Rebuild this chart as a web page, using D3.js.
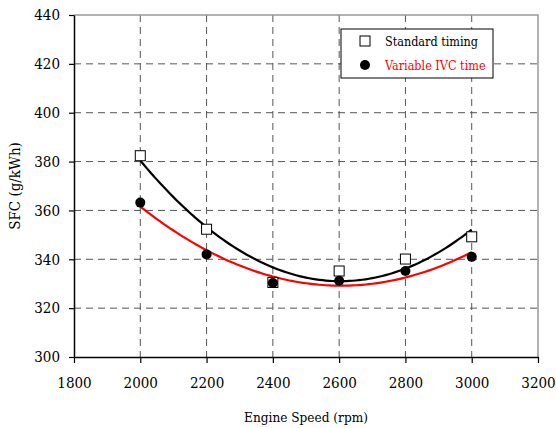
<!DOCTYPE html>
<html><head><meta charset="utf-8">
<script src="https://cdn.jsdelivr.net/npm/d3@7"></script>
<style>
html,body{margin:0;padding:0;background:#fff;}
svg{display:block;}
</style></head>
<body><svg id="chart" width="556" height="428"></svg>
<script>
const speeds = [2000, 2200, 2400, 2600, 2800, 3000];
const standardSFC = [382.4, 352.3, 330.5, 335.2, 340.1, 349.2];
const variableSFC = [363.2, 342.0, 330.3, 331.2, 335.2, 341.0];
const xTicks = [1800, 2000, 2200, 2400, 2600, 2800, 3000, 3200];
const yTicks = [300, 320, 340, 360, 380, 400, 420, 440];
const seriesNames = ["Standard timing", "Variable IVC time"];
const FONT = "'DejaVu Serif Condensed', 'DejaVu Serif', serif";

const svg = d3.select("#chart");
const L = 74, R = 538, T = 15, B = 357;
const x = d3.scaleLinear().domain([1800, 3200]).range([L, R]);
const y = d3.scaleLinear().domain([300, 440]).range([B, T]);

const grid = svg.append("g");
grid.selectAll(".vg").data(xTicks.slice(1, -1)).join("line")
  .attr("x1", d => x(d)).attr("x2", d => x(d)).attr("y1", T).attr("y2", B)
  .attr("stroke", "#555").attr("stroke-width", 1).attr("stroke-dasharray", "7,5");
grid.selectAll(".hg").data(yTicks.slice(1, -1)).join("line")
  .attr("x1", L).attr("x2", R).attr("y1", d => y(d)).attr("y2", d => y(d))
  .attr("stroke", "#555").attr("stroke-width", 1).attr("stroke-dasharray", "7,5");
svg.append("path").attr("d", `M${L},${T}H${R}V${B}`).attr("fill", "none")
  .attr("stroke", "#999").attr("stroke-width", 1.5);

const xAxis = svg.append("g").attr("transform", `translate(0,${B})`)
  .call(d3.axisBottom(x).tickValues(xTicks).tickSize(6).tickSizeOuter(0).tickPadding(14).tickFormat(d3.format("d")));
const yAxis = svg.append("g").attr("transform", `translate(${L},0)`)
  .call(d3.axisLeft(y).tickValues(yTicks).tickSize(5).tickSizeOuter(0).tickPadding(9).tickFormat(d3.format("d")));
[xAxis, yAxis].forEach(a => {
  a.attr("font-family", null);
  a.select(".domain").attr("stroke", "#000").attr("stroke-width", 1.5);
  a.selectAll(".tick line").attr("stroke", "#000").attr("stroke-width", 1.2);
  a.selectAll(".tick text").style("font-family", FONT).attr("font-size", 15).attr("fill", "#000");
});

// quadratic least-squares trend line (Excel-style polynomial trendline)
function quadFit(xs, ys) {
  const t = xs.map(v => (v - 2500) / 100);
  let S = [0,0,0,0,0], Ty = [0,0,0];
  t.forEach((ti, i) => {
    for (let k = 0; k < 5; k++) S[k] += Math.pow(ti, k);
    for (let k = 0; k < 3; k++) Ty[k] += Math.pow(ti, k) * ys[i];
  });
  const A = [[S[0],S[1],S[2],Ty[0]],[S[1],S[2],S[3],Ty[1]],[S[2],S[3],S[4],Ty[2]]];
  for (let i = 0; i < 3; i++) for (let j = i + 1; j < 3; j++) {
    const f = A[j][i] / A[i][i];
    for (let k = i; k < 4; k++) A[j][k] -= f * A[i][k];
  }
  const c = [0,0,0];
  for (let i = 2; i >= 0; i--) {
    let s = A[i][3];
    for (let k = i + 1; k < 3; k++) s -= A[i][k] * c[k];
    c[i] = s / A[i][i];
  }
  return v => { const tt = (v - 2500) / 100; return c[0] + c[1] * tt + c[2] * tt * tt; };
}
const xs = d3.range(2000, 3000.1, 10);
const line = d3.line().x(d => x(d[0])).y(d => y(d[1]));
[[standardSFC, "#000"], [variableSFC, "#f00"]].forEach(([vals, col]) => {
  const f = quadFit(speeds, vals);
  svg.append("path").datum(xs.map(v => [v, f(v)])).attr("d", line)
    .attr("fill", "none").attr("stroke", col).attr("stroke-width", 2.2);
});

svg.selectAll(".sq").data(speeds).join("rect")
  .attr("x", d => x(d) - 5).attr("y", (d, i) => y(standardSFC[i]) - 5)
  .attr("width", 10).attr("height", 10).attr("fill", "#fff").attr("stroke", "#000").attr("stroke-width", 1);
svg.selectAll(".ci").data(speeds).join("circle")
  .attr("cx", d => x(d)).attr("cy", (d, i) => y(variableSFC[i])).attr("r", 5).attr("fill", "#000");

const lg = svg.append("g");
lg.append("rect").attr("x", 341).attr("y", 29).attr("width", 152).attr("height", 49)
  .attr("fill", "#fff").attr("stroke", "#000").attr("stroke-width", 1);
lg.append("rect").attr("x", 360).attr("y", 36).attr("width", 10).attr("height", 10)
  .attr("fill", "#fff").attr("stroke", "#000");
lg.append("circle").attr("cx", 365).attr("cy", 65).attr("r", 5).attr("fill", "#000");
lg.append("text").attr("x", 385).attr("y", 46).style("font-family", FONT).attr("font-size", 12.5).attr("fill", "#000").text(seriesNames[0]);
lg.append("text").attr("x", 385).attr("y", 70).style("font-family", FONT).attr("font-size", 12.5).attr("fill", "#f00").text(seriesNames[1]);

svg.append("text").attr("x", (L + R) / 2).attr("y", 422).attr("text-anchor", "middle")
  .style("font-family", FONT).attr("font-size", 13.5).text("Engine Speed (rpm)");
svg.append("text").attr("transform", `translate(20,${(T + B) / 2}) rotate(-90)`).attr("text-anchor", "middle")
  .style("font-family", FONT).attr("font-size", 15).text("SFC (g/kWh)");
</script></body></html>
